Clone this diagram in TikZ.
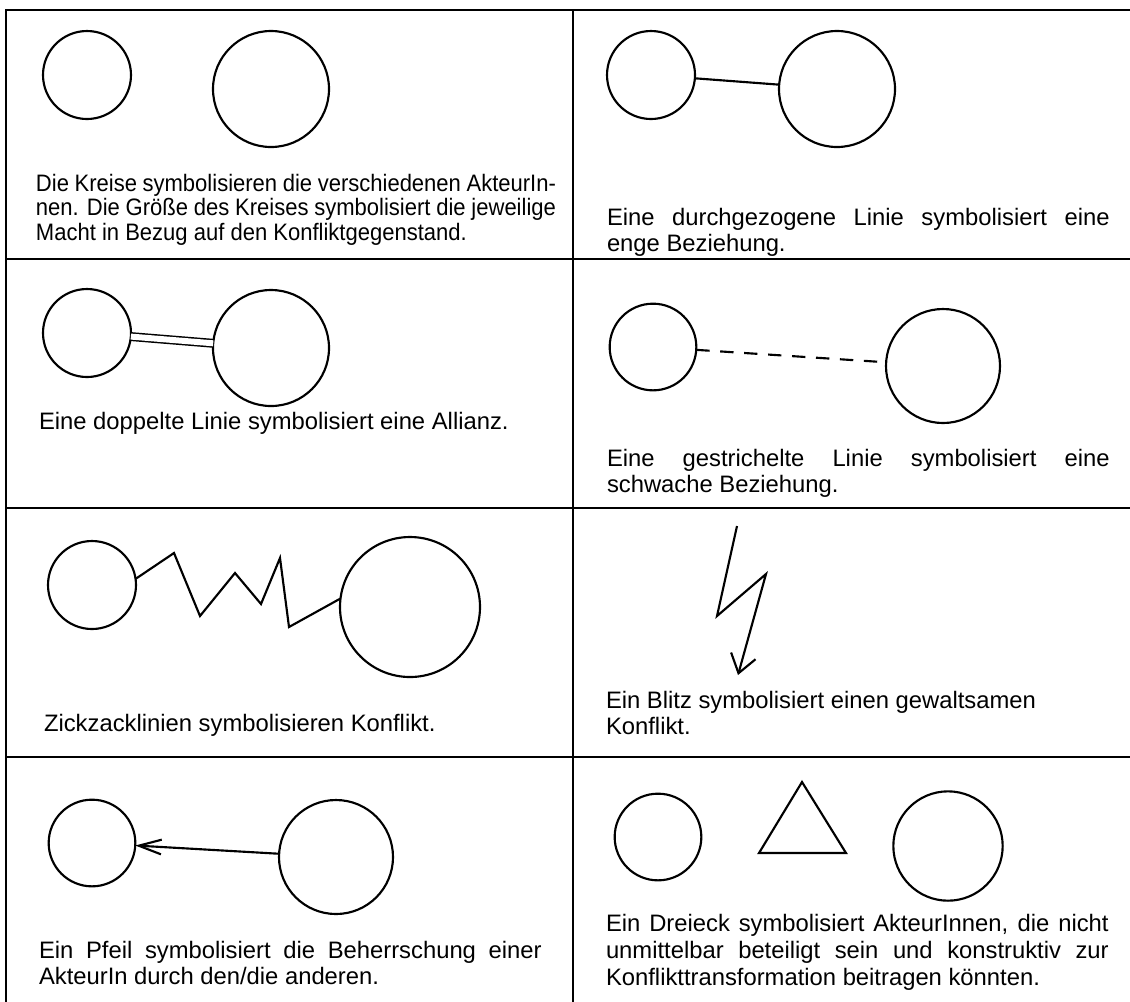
\documentclass[tikz,border=0pt]{standalone}
\usepackage{fontspec}
\setmainfont{Liberation Sans}
\newfontfamily\condfont[FakeStretch=0.925]{Liberation Sans}
\usetikzlibrary{arrows.meta}
\begin{document}
\begin{tikzpicture}[x=0.75pt, y=-0.75pt,
  grid/.style={line width=2.1pt},
  actor/.style={circle, draw, line width=1.6pt, inner sep=0pt, outer sep=0pt},
  link/.style={line width=1.6pt},
  txt/.style={anchor=base west, inner sep=0pt, outer sep=0pt, text width=377pt, align=justify,
    font=\fontsize{17.85}{19.5}\selectfont},
]
\useasboundingbox (0,0) rectangle (1130,1001);
\clip (0,0) rectangle (1130,1001);
\fill[white] (0,0) rectangle (1130,1001);

% grid
\draw[grid] (6,1010) -- (6,10) -- (1140,10);
\draw[grid] (573,10) -- (573,1010);
\draw[grid] (6,259) -- (1140,259);
\draw[grid] (6,508) -- (1140,508);
\draw[grid] (6,757) -- (1140,757);

% row 1 left
\node[actor, minimum size=66pt] (a1) at (87,75) {};
\node[actor, minimum size=87pt] (b1) at (271,89) {};
\node[txt, text width=390pt, font=\condfont\fontsize{17.85}{18.6}\selectfont] (t1) at (36,191)
 {Die Kreise symbolisieren die verschiedenen AkteurIn-\linebreak nen. Die Größe des Kreises symbolisiert die jeweilige\linebreak Macht in Bezug auf den Konfliktgegenstand.};

% row 1 right
\node[actor, minimum size=66pt] (c1) at (651,75) {};
\node[actor, minimum size=87pt] (d1) at (837,89) {};
\draw[link] (c1) -- (d1);
\node[txt] (t2) at (607,225) {Eine durchgezogene Linie symbolisiert eine\linebreak enge Beziehung.};

% row 2 left
\node[actor, minimum size=66pt] (e1) at (87,333) {};
\node[actor, minimum size=87pt] (f1) at (271,348) {};
\draw[line width=1.1pt, double=white, double distance=4.5pt] (e1) -- (f1);
\node[txt] (t3) at (39,429) {Eine doppelte Linie symbolisiert eine Allianz.};

% row 2 right
\node[actor, minimum size=65pt] (g1) at (653,347) {};
\node[actor, minimum size=85.5pt] (h1) at (943,366) {};
\draw[link, dash pattern=on 10pt off 8pt] (g1) -- (h1);
\node[txt] (t4) at (607,466) {Eine gestrichelte Linie symbolisiert eine\linebreak schwache Beziehung.};

% row 3 left
\node[actor, minimum size=66pt] (i1) at (92,585) {};
\node[actor, minimum size=105pt] (j1) at (410,607) {};
\coordinate (z1) at (174,553);
\coordinate (z2) at (200,616);
\coordinate (z3) at (235,573);
\coordinate (z4) at (261,604);
\coordinate (z5) at (280,558);
\coordinate (z6) at (289,627);
\draw[link, line join=miter] (i1.8) -- (z1) -- (z2) -- (z3) -- (z4) -- (z5) -- (z6) -- (j1.173);
\node[txt] (t5) at (44,731) {Zickzacklinien symbolisieren Konflikt.};

% row 3 right (lightning)
\coordinate (l1) at (737,526);
\coordinate (l2) at (717,616);
\coordinate (l3) at (766,574);
\coordinate (l4) at (738,675);
\draw[link, line join=miter, -{Straight Barb[length=13.5pt, width=19pt, line width=1.6pt]}] (l1) -- (l2) -- (l3) -- (l4);
\node[txt] (t6) at (606,708) {Ein Blitz symbolisiert einen gewaltsamen\newline Konflikt.};

% row 4 left
\node[actor, minimum size=65pt] (k1) at (92,843) {};
\node[actor, minimum size=85.5pt] (l1c) at (336,857) {};
\draw[link, -{Straight Barb[length=17pt, width=11pt, line width=1.6pt]}] (l1c) -- (k1);
\node[txt] (t7) at (39,958) {Ein Pfeil symbolisiert die Beherrschung einer\linebreak AkteurIn durch den/die anderen.};

% row 4 right
\node[actor, minimum size=65pt] (m1) at (658,837) {};
\coordinate (tr1) at (802,782);
\coordinate (tr2) at (759,853);
\coordinate (tr3) at (846,853);
\draw[link, line join=miter] (tr1) -- (tr2) -- (tr3) -- cycle;
\node[actor, minimum size=82pt] (n1) at (948,846) {};
\node[txt, font=\fontsize{17.85}{20.6}\selectfont] (t8) at (606,931) {Ein Dreieck symbolisiert AkteurInnen, die nicht\linebreak unmittelbar beteiligt sein und konstruktiv zur\linebreak Konflikttransformation beitragen könnten.};
\end{tikzpicture}
\end{document}
